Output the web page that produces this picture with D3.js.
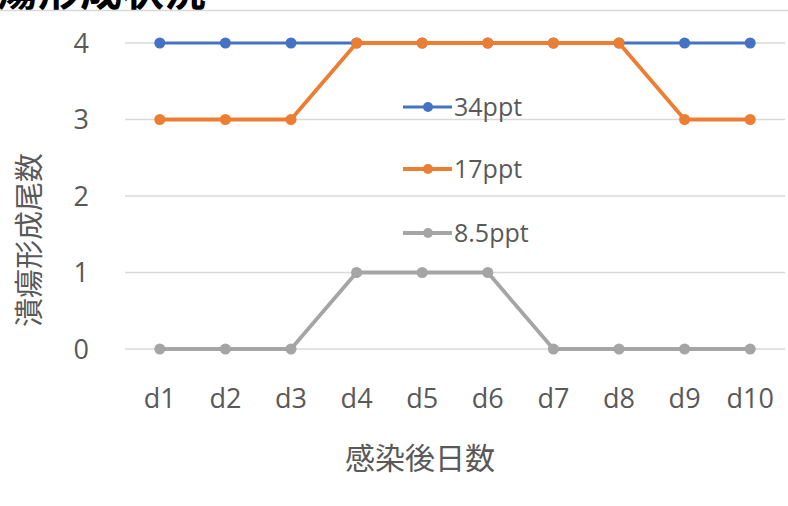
<!DOCTYPE html>
<html><head><meta charset="utf-8">
<script src="https://cdn.jsdelivr.net/npm/d3@7"></script>
<style>body{margin:0;background:#fff;}svg{display:block;}</style>
</head><body>
<svg id="c" width="788" height="506"></svg>
<script>
const categories = ["d1","d2","d3","d4","d5","d6","d7","d8","d9","d10"];
const seriesNames = ["34ppt","17ppt","8.5ppt"];
const s34 = [4,4,4,4,4,4,4,4,4,4];
const s17 = [3,3,3,4,4,4,4,4,3,3];
const s85 = [0,0,0,1,1,1,0,0,0,0];
const yTicks = [0,1,2,3,4];
const colors = ["#4472C4","#ED7D31","#A5A5A5"];
const widths = [2.8,3.8,3.8];

const svg = d3.select("#c");
const cjk = "'Noto Sans CJK JP',sans-serif";
const lat = "'Open Sans','Noto Sans CJK JP',sans-serif";
const x = d3.scaleBand().domain(categories).range([127,783]);
const y = d3.scaleLinear().domain([0,4]).range([349,43]);

// title (cut off at top)
svg.append("text").attr("x",-46).attr("y",6).attr("font-family",cjk)
  .attr("font-weight","bold").attr("font-size",42).attr("fill","#000").text("潰瘍形成状況");
svg.append("line").attr("x1",0).attr("x2",788).attr("y1",10.5).attr("y2",10.5)
  .attr("stroke","#d9d9d9").attr("stroke-width",1.5);

// grid
svg.append("g").selectAll("line").data(yTicks).join("line")
  .attr("x1",125).attr("x2",785).attr("y1",d=>y(d)).attr("y2",d=>y(d))
  .attr("stroke","#d9d9d9").attr("stroke-width",1.5);

// y tick labels
svg.append("g").selectAll("text").data(yTicks).join("text")
  .attr("x",89).attr("y",d=>y(d)).attr("dy","0.36em").attr("text-anchor","end")
  .attr("font-family",lat).attr("font-size",27).attr("fill","#595959").text(d=>d);

// x tick labels
svg.append("g").selectAll("text").data(categories).join("text")
  .attr("x",d=>x(d)+x.bandwidth()/2).attr("y",408).attr("text-anchor","middle")
  .attr("font-family",lat).attr("font-size",27).attr("fill","#595959").text(d=>d);

// axis titles
svg.append("text").attr("x",420).attr("y",469).attr("text-anchor","middle")
  .attr("font-family",cjk).attr("font-size",30).attr("fill","#595959").text("感染後日数");
svg.append("text").attr("transform","translate(40,240) rotate(-90)").attr("text-anchor","middle")
  .attr("font-family",cjk).attr("font-size",29).attr("fill","#595959").text("潰瘍形成尾数");

const data = [s34,s17,s85];
const line = d3.line().x((d,i)=>x(categories[i])+x.bandwidth()/2).y(d=>y(d));
data.forEach((vals,k)=>{
  const g = svg.append("g");
  g.append("path").datum(vals).attr("d",line).attr("fill","none")
    .attr("stroke",colors[k]).attr("stroke-width",widths[k]).attr("stroke-linejoin","round");
  g.selectAll("circle").data(vals).join("circle")
    .attr("cx",(d,i)=>x(categories[i])+x.bandwidth()/2).attr("cy",d=>y(d)).attr("r",5.5)
    .attr("fill",colors[k]);
});

// legend
const legY = [107,169,233];
seriesNames.forEach((n,k)=>{
  const g = svg.append("g");
  g.append("line").attr("x1",403).attr("x2",452).attr("y1",legY[k]).attr("y2",legY[k])
    .attr("stroke",colors[k]).attr("stroke-width",widths[k]);
  g.append("circle").attr("cx",428).attr("cy",legY[k]).attr("r",5).attr("fill",colors[k]);
  g.append("text").attr("x",454).attr("y",legY[k]).attr("dy","0.36em")
    .attr("font-family",lat).attr("font-size",25).attr("fill","#595959").text(n);
});
</script>
</body></html>
